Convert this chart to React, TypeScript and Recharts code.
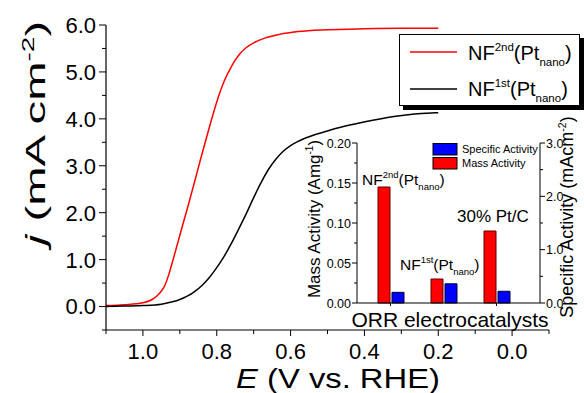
import React from "react";
import { LineChart, Line, XAxis, YAxis, BarChart, Bar } from "recharts";

const FONT = "'Liberation Sans', Arial, Helvetica, sans-serif";

// polarization curves
const potential2nd = [1.1, 1.05, 1.0, 0.975, 0.96, 0.95, 0.94, 0.93, 0.92, 0.9, 0.88, 0.86, 0.84, 0.82, 0.8, 0.78, 0.76, 0.74, 0.72, 0.7, 0.67, 0.63, 0.58, 0.5, 0.4, 0.3, 0.2];
const current2nd = [0.02, 0.04, 0.08, 0.15, 0.24, 0.33, 0.46, 0.68, 0.95, 1.52, 2.08, 2.66, 3.25, 3.82, 4.36, 4.8, 5.12, 5.36, 5.52, 5.62, 5.72, 5.8, 5.86, 5.9, 5.92, 5.93, 5.93];
const potential1st = [1.1, 1.05, 1.0, 0.95, 0.92, 0.9, 0.88, 0.86, 0.84, 0.82, 0.8, 0.78, 0.76, 0.74, 0.72, 0.7, 0.68, 0.66, 0.64, 0.62, 0.6, 0.58, 0.55, 0.51, 0.47, 0.42, 0.37, 0.32, 0.27, 0.23, 0.2];
const current1st = [0.0, 0.01, 0.02, 0.05, 0.1, 0.15, 0.22, 0.32, 0.45, 0.62, 0.83, 1.07, 1.35, 1.66, 1.98, 2.32, 2.64, 2.92, 3.14, 3.31, 3.43, 3.52, 3.62, 3.72, 3.81, 3.9, 3.98, 4.05, 4.1, 4.12, 4.13];

const xTicks = [1.1, 1.0, 0.9, 0.8, 0.7, 0.6, 0.5, 0.4, 0.3, 0.2, 0.1, 0.0, -0.1];
const yTicks = [-0.5, 0, 0.5, 1, 1.5, 2, 2.5, 3, 3.5, 4, 4.5, 5, 5.5, 6];

// inset: ORR activities
const catalysts = ["NF2nd(Ptnano)", "NF1st(Ptnano)", "30% Pt/C"];
const massActivity = [0.145, 0.03, 0.09];
const specificActivity = [0.2, 0.36, 0.22];
const massTicks = [0, 0.025, 0.05, 0.075, 0.1, 0.125, 0.15, 0.175, 0.2];
const specTicks = [0, 0.5, 1, 1.5, 2, 2.5, 3];

const curve2nd = potential2nd.map((E, i) => ({ E, j: current2nd[i] }));
const curve1st = potential1st.map((E, i) => ({ E, j: current1st[i] }));
const insetData = catalysts.map((name, i) => ({
  name,
  mass: massActivity[i],
  spec: specificActivity[i],
}));

const near = (v: number, step: number) => Math.abs(v / step - Math.round(v / step)) < 1e-6;

function leftTick(isMajor: (v: number) => boolean, fmt: (v: number) => string, fs: number, long: number, short: number, gap: number) {
  return (props: any) => {
    const { x, y, payload } = props;
    const m = isMajor(payload.value);
    return (
      <g>
        <line x1={x} x2={x - (m ? long : short)} y1={y} y2={y} stroke="#000" strokeWidth={1} />
        {m && (
          <text x={x - gap} y={y} dy="0.36em" textAnchor="end" fontSize={fs} fontFamily={FONT} fill="#000">
            {fmt(payload.value)}
          </text>
        )}
      </g>
    );
  };
}

function rightTick(isMajor: (v: number) => boolean, fmt: (v: number) => string, fs: number, long: number, short: number, gap: number) {
  return (props: any) => {
    const { x, y, payload } = props;
    const m = isMajor(payload.value);
    return (
      <g>
        <line x1={x} x2={x + (m ? long : short)} y1={y} y2={y} stroke="#000" strokeWidth={1} />
        {m && (
          <text x={x + gap} y={y} dy="0.36em" textAnchor="start" fontSize={fs} fontFamily={FONT} fill="#000">
            {fmt(payload.value)}
          </text>
        )}
      </g>
    );
  };
}

function bottomTick(isMajor: (v: number) => boolean, fmt: (v: number) => string, fs: number, long: number, short: number, gap: number) {
  return (props: any) => {
    const { x, y, payload } = props;
    const m = isMajor(payload.value);
    return (
      <g>
        <line x1={x} x2={x} y1={y} y2={y + (m ? long : short)} stroke="#000" strokeWidth={1} />
        {m && fmt(payload.value) && (
          <text x={x} y={y + gap} textAnchor="middle" fontSize={fs} fontFamily={FONT} fill="#000">
            {fmt(payload.value)}
          </text>
        )}
      </g>
    );
  };
}

export default function App() {
  return (
    <div style={{ position: "absolute", left: 0, top: 0, width: 584, height: 393, background: "#fff" }}>
      <LineChart width={584} height={393} margin={{ top: 25, right: 35, bottom: 0, left: 0 }}>
        <XAxis
          type="number"
          dataKey="E"
          domain={[-0.1, 1.1]}
          reversed
          allowDataOverflow
          ticks={xTicks}
          interval={0}
          height={63}
          tickSize={0}
          tickMargin={0}
          tickLine={false}
          axisLine={{ stroke: "#000", strokeWidth: 1.2 }}
          tick={bottomTick(
            (v) => near(v, 0.2) && v > -0.05 && v < 1.05,
            (v) => Math.abs(v).toFixed(1),
            22,
            6,
            4,
            29
          )}
        />
        <YAxis
          type="number"
          domain={[-0.5, 6]}
          ticks={yTicks}
          interval={0}
          width={106}
          tickSize={0}
          tickMargin={0}
          tickLine={false}
          axisLine={{ stroke: "#000", strokeWidth: 1.2 }}
          tick={leftTick((v) => near(v, 1), (v) => v.toFixed(1), 22, 7, 4, 10)}
        />
        <Line data={curve2nd} dataKey="j" type="monotone" stroke="#ff0000" strokeWidth={1.5} dot={false} isAnimationActive={false} />
        <Line data={curve1st} dataKey="j" type="monotone" stroke="#000000" strokeWidth={1.5} dot={false} isAnimationActive={false} />
      </LineChart>

      <div style={{ position: "absolute", left: 300, top: 130 }}>
        <BarChart width={284} height={180} data={insetData} margin={{ top: 13, right: 0, bottom: 0, left: 0 }} barSize={12} barGap={2}>
          <XAxis
            dataKey="name"
            height={7}
            padding={{ left: 7, right: 17 }}
            tickSize={0}
            tickMargin={0}
            tickLine={false}
            axisLine={{ stroke: "#000" }}
            tick={bottomTick(() => true, () => "", 12, 3, 3, 0)}
          />
          <YAxis
            yAxisId="mass"
            orientation="left"
            domain={[0, 0.2]}
            ticks={massTicks}
            interval={0}
            width={57}
            tickSize={0}
            tickMargin={0}
            tickLine={false}
            axisLine={{ stroke: "#000" }}
            tick={leftTick((v) => near(v, 0.05), (v) => v.toFixed(2), 12.5, 5, 3, 6)}
          />
          <YAxis
            yAxisId="spec"
            orientation="right"
            domain={[0, 3]}
            ticks={specTicks}
            interval={0}
            width={44}
            tickSize={0}
            tickMargin={0}
            tickLine={false}
            axisLine={{ stroke: "#000" }}
            tick={rightTick((v) => near(v, 1), (v) => v.toFixed(1), 12.5, 5, 3, 6)}
          />
          <Bar yAxisId="mass" dataKey="mass" fill="#ff0000" stroke="#5a0000" strokeWidth={1} isAnimationActive={false} />
          <Bar yAxisId="spec" dataKey="spec" fill="#0000ff" stroke="#000033" strokeWidth={1} isAnimationActive={false} />
        </BarChart>
      </div>

      <svg width={584} height={393} style={{ position: "absolute", left: 0, top: 0, pointerEvents: "none" }} fontFamily={FONT}>
        {/* main axis titles (the source stretches them along the text) */}
        <text transform="translate(45,133) rotate(-90) scale(1.75,1)" textAnchor="middle" fontSize={27} fill="#000">
          <tspan fontStyle="italic">j</tspan> (mA cm<tspan fontSize={16} dy={-11}>-2</tspan>
          <tspan dy={11}>)</tspan>
        </text>
        <text transform="translate(338,388) scale(1.17,1)" x={0} y={0} textAnchor="middle" fontSize={28} fill="#000">
          <tspan fontStyle="italic">E</tspan> (V vs. RHE)
        </text>

        {/* legend */}
        <rect x={403} y={38} width={181} height={72} fill="#000" />
        <rect x={399.5} y={34.5} width={180} height={71} fill="#fff" stroke="#000" strokeWidth={1} />
        <line x1={410} x2={457} y1={52} y2={52} stroke="#ff0000" strokeWidth={1.5} />
        <line x1={410} x2={457} y1={89} y2={89} stroke="#000" strokeWidth={1.5} />
        <text x={468} y={60} fontSize={20} fill="#000">
          NF<tspan fontSize={11.5} dy={-9}>2nd</tspan>
          <tspan dy={9}>(Pt</tspan>
          <tspan fontSize={11.5} dy={6}>nano</tspan>
          <tspan dy={-6}>)</tspan>
        </text>
        <text x={468} y={96} fontSize={20} fill="#000">
          NF<tspan fontSize={11.5} dy={-9}>1st</tspan>
          <tspan dy={9}>(Pt</tspan>
          <tspan fontSize={11.5} dy={6}>nano</tspan>
          <tspan dy={-6}>)</tspan>
        </text>

        {/* inset titles */}
        <text transform="translate(320,219) rotate(-90)" textAnchor="middle" fontSize={17} fill="#000">
          Mass Activity (Amg<tspan fontSize={10} dy={-7}>-1</tspan>
          <tspan dy={7}>)</tspan>
        </text>
        <text transform="translate(573,217) rotate(-90)" textAnchor="middle" fontSize={18} fill="#000">
          Specific Activity (mAcm<tspan fontSize={10.5} dy={-7}>-2</tspan>
          <tspan dy={7}>)</tspan>
        </text>
        <text x={450} y={327} textAnchor="middle" fontSize={21} fill="#000">
          ORR electrocatalysts
        </text>

        {/* inset legend */}
        <rect x={433} y={143.5} width={24} height={11.5} fill="#0000ff" stroke="#000" strokeWidth={1} />
        <rect x={433} y={157.5} width={24} height={11.5} fill="#ff0000" stroke="#000" strokeWidth={1} />
        <text x={462} y={153} fontSize={11} fill="#000">Specific Activity</text>
        <text x={462} y={167} fontSize={11} fill="#000">Mass Activity</text>

        {/* bar annotations */}
        <text x={362} y={185} fontSize={15.5} fill="#000">
          NF<tspan fontSize={9.5} dy={-7}>2nd</tspan>
          <tspan dy={7}>(Pt</tspan>
          <tspan fontSize={9.5} dy={5}>nano</tspan>
          <tspan dy={-5}>)</tspan>
        </text>
        <text x={400} y={270} fontSize={15.5} fill="#000">
          NF<tspan fontSize={9.5} dy={-7}>1st</tspan>
          <tspan dy={7}>(Pt</tspan>
          <tspan fontSize={9.5} dy={5}>nano</tspan>
          <tspan dy={-5}>)</tspan>
        </text>
        <text x={457} y={222} fontSize={17} fill="#000">
          30% Pt/C
        </text>
      </svg>
    </div>
  );
}
